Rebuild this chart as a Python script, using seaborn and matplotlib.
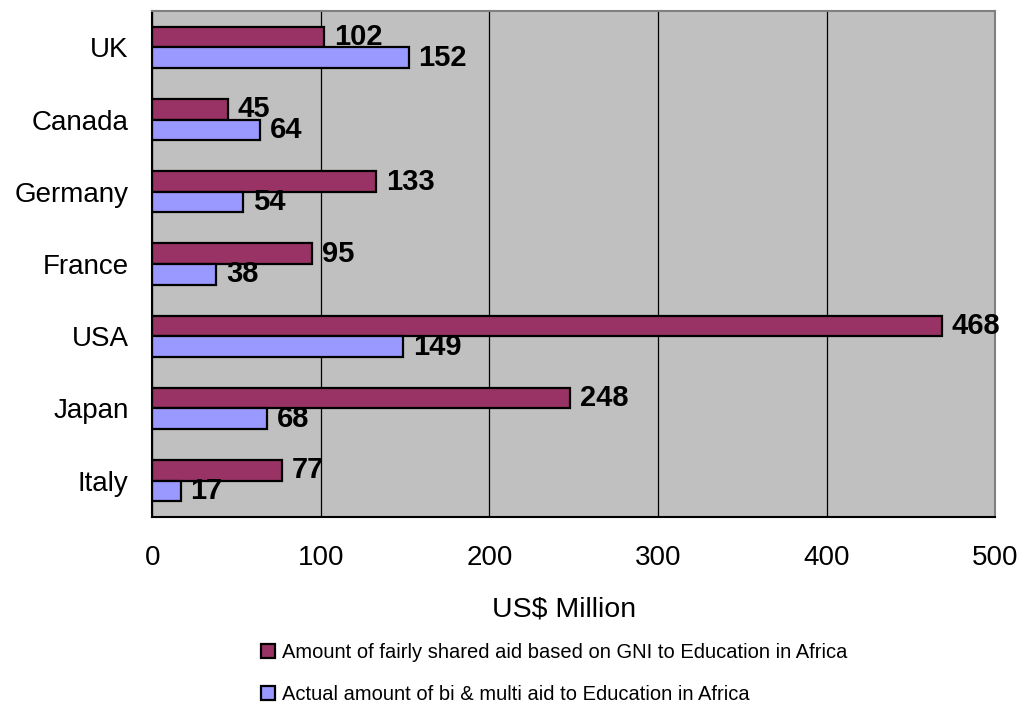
import seaborn as sns
import matplotlib.pyplot as plt
import pandas as pd

# data
countries = ["UK", "Canada", "Germany", "France", "USA", "Japan", "Italy"]
fair_share = [102, 45, 133, 95, 468, 248, 77]
actual_aid = [152, 64, 54, 38, 149, 68, 17]
series_names = ["Amount of fairly shared aid based on GNI to Education in Africa",
                "Actual amount of bi & multi aid to Education in Africa"]
x_ticks = [0, 100, 200, 300, 400, 500]

df = pd.DataFrame({
    "country": countries * 2,
    "value": fair_share + actual_aid,
    "series": [series_names[0]] * len(countries) + [series_names[1]] * len(countries),
})

sns.set_theme(style="white")
plt.rcParams["font.family"] = ["Liberation Sans", "DejaVu Sans"]
plt.rcParams["text.color"] = "black"

fig = plt.figure(figsize=(10.21, 7.05), dpi=100)
ax = fig.add_axes([0.149, 0.267, 0.826, 0.717])
ax.set_facecolor("#c0c0c0")

sns.barplot(data=df, y="country", x="value", hue="series", order=countries,
            hue_order=series_names, palette=["#993366", "#9999ff"],
            orient="h", width=0.57, edgecolor="black", linewidth=1.6,
            saturation=1, ax=ax)

# value labels
for cont in ax.containers:
    ax.bar_label(cont, padding=7, fontsize=21, fontweight="bold", color="black")

ax.set_xlim(0, 500)
ax.set_ylim(6.5, -0.5)
ax.set_xticks(x_ticks)
ax.tick_params(axis="x", labelsize=20, direction="in", length=5, pad=20, colors="black")
ax.tick_params(axis="y", which="major", labelsize=20, length=0, pad=17)
ax.set_yticks([i + 0.5 for i in range(-1, len(countries))], minor=True)
ax.tick_params(axis="y", which="minor", direction="in", length=10, color="#606060", width=1)
for lab in ax.get_xticklabels() + ax.get_yticklabels():
    lab.set_color("black")

ax.grid(axis="x", color="black", linewidth=0.9)
ax.set_axisbelow(True)
for side in ["left", "bottom"]:
    ax.spines[side].set_color("black")
    ax.spines[side].set_linewidth(1.5)
for side in ["top", "right"]:
    ax.spines[side].set_color("#808080")
    ax.spines[side].set_linewidth(1.5)
    ax.spines[side].set_visible(True)

ax.set_ylabel("")
ax.set_xlabel("US$ Million", fontsize=20.5, color="black")
ax.xaxis.set_label_coords(0.488, -0.157)

handles, labels = ax.get_legend_handles_labels()
ax.get_legend().remove()
fig.legend(handles, labels, loc="upper left", bbox_to_anchor=(0.256, 0.088),
           frameon=False, fontsize=14.5, handlelength=0.7, handleheight=0.7,
           handletextpad=0.3, labelspacing=1.15, borderpad=0, borderaxespad=0,
           labelcolor="black")

fig.savefig("out.png", dpi=100)
